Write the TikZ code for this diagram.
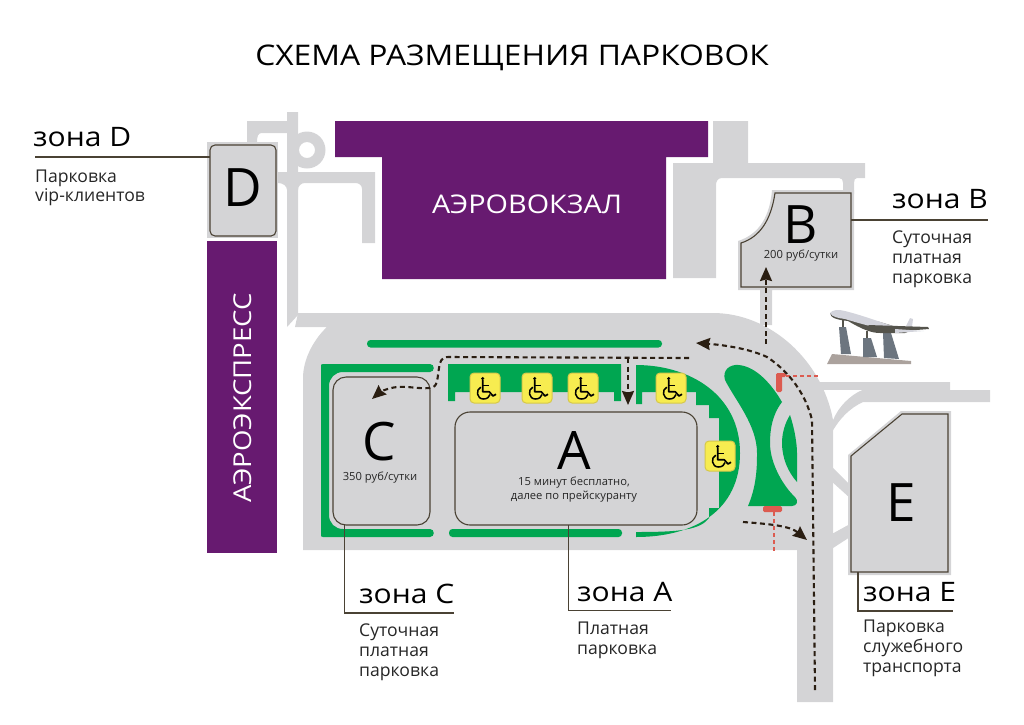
\documentclass[tikz,border=0pt]{standalone}
\usepackage{fontspec}
\setmainfont{Open Sans}
\newfontfamily\wide[FakeStretch=1.12]{Open Sans}
\usetikzlibrary{arrows.meta}
\definecolor{road}{HTML}{D4D4D6}
\definecolor{grn}{HTML}{00A651}
\definecolor{purp}{HTML}{671A70}
\definecolor{edge}{HTML}{4A4234}
\definecolor{dash}{HTML}{2A1E12}
\definecolor{redd}{HTML}{DC5B50}
\definecolor{yel}{HTML}{F7EC50}
\definecolor{yeledge}{HTML}{D6C84A}
\definecolor{stone}{HTML}{ABA29D}
\definecolor{pylon}{HTML}{6C757F}
\definecolor{planelight}{HTML}{D3D4DC}
\definecolor{planedark}{HTML}{55544C}
\tikzset{
  roadfill/.style={fill=road,draw=none},
  greenfill/.style={fill=grn,draw=none},
  purplefill/.style={fill=purp,draw=none},
  zonebox/.style={fill=road,draw=edge,line width=1.1pt},
  leader/.style={draw=edge,line width=1.1pt},
  route/.style={draw=dash,line width=2.1pt,dash pattern=on 5pt off 3.5pt},
  routearrow/.style={route,-{Stealth[length=14pt,width=12pt,inset=1.5pt,fill=dash]}},
  barrier/.style={draw=redd,line width=1.4pt,dash pattern=on 4pt off 3pt},
  redbar/.style={fill=redd,draw=none,rounded corners=1.5pt},
  bigletter/.style={font=\fontsize{53}{53}\selectfont,text=black,inner sep=0pt},
  price/.style={font=\fontsize{11.2}{14}\selectfont,text=black!85,inner sep=0pt,align=center},
  zonetitle/.style={font=\wide\fontsize{26.8}{26.8}\selectfont,text=black,inner sep=0pt,anchor=base west},
  body/.style={font=\fontsize{17.6}{20}\selectfont,text=black!85,inner sep=0pt,anchor=base west},
  sign/.pic={
    \path[fill=yel,draw=yeledge,line width=1pt,rounded corners=4pt] (-15,-15) rectangle (15,15);
    \path[fill=black] (-2.3,-9.5) circle[radius=1.7];
    \draw[black,line width=1.7pt,line join=round] (-2.3,-8) -- (-2.3,3.8) -- (4.3,3.8) -- (8,8) -- (11,6.2);
    \draw[black,line width=1.7pt] (-2.3,-2.5) -- (3.5,-2.5);
    \draw[black,line width=1.5pt] (-4.2,-0.8) .. controls (-9.5,1.5) and (-8.5,11) .. (-1.5,11) .. controls (2,11) and (4.5,9) .. (5,6.5);
  }
}
\begin{document}
\begin{tikzpicture}[x=1pt,y=-1pt]
\useasboundingbox (0,0) rectangle (1024,724);
% title
\node[font=\wide\fontsize{28.4}{28.4}\selectfont,text=black,inner sep=0pt,anchor=base] (title) at (512,65) {СХЕМА РАЗМЕЩЕНИЯ ПАРКОВОК};

% roads: upper left
\path[roadfill] (247,143) -- (247,121) -- (287,121) -- (287,112) -- (298,112) -- (298,315) -- (287,327) -- (287,190) .. controls (287,186) and (283,183) .. (278,183) -- (278,172) -- (287,172) -- (287,133) -- (262,133) .. controls (258,133) and (257,136) .. (257,143) -- cycle;
\path[roadfill,even odd rule] (307,150) circle[radius=18.5] (307,150) circle[radius=8];
\path[roadfill] (295,172) -- (375,172) -- (375,243) -- (362,243) -- (362,189) .. controls (362,185) and (359,183) .. (355,183) -- (305,183) .. controls (301,183) and (298,186) .. (298,190) -- (295,190) -- cycle;
% roads: upper right
\path[roadfill] (673,163) -- (713,163) -- (713,121) -- (748,121) -- (748,163) -- (865,163) -- (865,178) -- (857,178) .. controls (855,178) and (854,180) .. (854,183) -- (854,194) -- (843,194) -- (843,183) .. controls (843,180) and (842,178) .. (839,178) -- (722,178) .. controls (718,178) and (716,181) .. (716,185) -- (716,278) -- (673,278) -- cycle;
\path[roadfill] (772,190) -- (854,190) -- (854,290) -- (772,290) -- (772,325) -- (760,325) -- (760,290) -- (738,290) -- (738,241) .. controls (760,234) and (770,215) .. cycle;
% roads: east
\path[roadfill] (820,382) -- (950,382) -- (950,390) -- (990,390) -- (990,402) -- (863,402) .. controls (850,408) and (840,418) .. (832,432) -- (820,432) -- cycle;
\path[fill=white] (815,390) -- (862,390) .. controls (850,395) and (838,407) .. (833,420) -- (815,420) -- cycle;
\path[roadfill] (830,465) -- (850,485) -- (850,498) -- (830,480) -- cycle;
\path[roadfill] (830,535) -- (850,524) -- (850,537) -- (830,550) -- cycle;
% plaza
\path[roadfill] (298,313) -- (713,313) .. controls (770,313) and (822,360) .. (833,420) -- (833,702) -- (797,702) -- (797,550) -- (303,550) -- (303,378) .. controls (303,358) and (315,338) .. (327,327) -- (295,327) -- cycle;

% purple blocks
\path[purplefill] (335,121) -- (708,121) -- (708,157) -- (666,157) -- (666,279) -- (382,279) -- (382,157) -- (335,157) -- cycle;
\node[font=\wide\fontsize{25.7}{25.7}\selectfont,text=white,inner sep=0pt] (terminal) at (527,204) {АЭРОВОКЗАЛ};
\path[purplefill] (207,241) rectangle (277,553);
\node[font=\wide\fontsize{24.6}{24.6}\selectfont,text=white,inner sep=0pt,rotate=90] (express) at (243,398) {АЭРОЭКСПРЕСС};

% green areas
\path[greenfill,rounded corners=3.5pt] (367,340) rectangle (662,347.5);
\path[greenfill,even odd rule] (323,364) -- (430,364) .. controls (435,364) and (435,372) .. (430,372) -- (343,372) .. controls (335,372) and (329,378) .. (329,386) -- (329,515) .. controls (329,523) and (335,529) .. (343,529) -- (430,529) .. controls (435,529) and (435,537) .. (430,537) -- (323,537) .. controls (321,537) and (321,536) .. (321,535) -- (321,366) .. controls (321,365) and (321,364) .. (323,364) -- cycle;
\path[greenfill] (448,364) -- (621,364) -- (621,401) -- (614,401) -- (614,392) -- (455,392) -- (455,401) -- (448,401) -- cycle;
\path[greenfill,rounded corners=3.5pt] (449,529) rectangle (622,537);
\path[greenfill] (636,365) .. controls (690,365) and (740,395) .. (740,453) .. controls (740,510) and (695,537) .. (636,537) -- (636,532) .. controls (680,532) and (700,530) .. (709,518) -- (709,508) -- (719,508) -- (719,418) -- (709,418) -- (709,405) -- (696,405) -- (696,392) -- (642,392) -- (642,404) -- (636,404) -- cycle;
\path[greenfill] (725,380) .. controls (722,370) and (730,364) .. (739,365) .. controls (757,367) and (772,385) .. (782,402) .. controls (772,415) and (770,430) .. (770,443) .. controls (770,465) and (785,488) .. (795,497) .. controls (799,501) and (797,506) .. (792,506) -- (748,506) .. controls (757,485) and (757,465) .. (757,453) .. controls (757,425) and (735,400) .. (725,380) -- cycle;
\path[greenfill] (790,415) .. controls (795,430) and (797,445) .. (797,453) -- (797,482) .. controls (788,472) and (782,458) .. (782,443) .. controls (782,433) and (785,423) .. (790,415) -- cycle;

% parking zones
\path[roadfill] (207,142) rectangle (278,238);
\path[zonebox,rounded corners=5pt] (210,145) rectangle (276,236);
\node[bigletter] (D) at (243,188) {D};
\coordinate (Dleft) at (210,157);
\path[zonebox,rounded corners=13pt] (333,377) rectangle (430,525);
\node[bigletter] (C) at (379,442) {C};
\node[price] (Cprice) at (380,478) {350 руб/сутки};
\coordinate (Cbottom) at (344.5,525);
\path[zonebox,rounded corners=15pt] (455,412) rectangle (697,525);
\node[bigletter] (A) at (574,450) {A};
\node[price] (Aprice) at (574,490) {15 минут бесплатно,\\далее по прейскуранту};
\coordinate (Abottom) at (568.5,525);
\path[zonebox] (775,193) -- (851,193) -- (851,287) -- (741,287) -- (741,243) .. controls (760,237) and (771,220) .. (775,193) -- cycle;
\node[bigletter] (B) at (801,225) {B};
\node[price] (Bprice) at (801,256) {200 руб/сутки};
\coordinate (Bright) at (851,220);
\path[roadfill] (848,455) -- (901,411) -- (951,411) -- (951,575) -- (848,575) -- cycle;
\path[zonebox] (851,456) -- (902,414) -- (948,414) -- (948,572) -- (851,572) -- cycle;
\node[bigletter] (E) at (901,503) {E};
\coordinate (Ebottom) at (858,572);

% barriers
\path[redbar] (776,373) rectangle (782,392);
\path[redbar] (776,373) rectangle (786,377);
\coordinate (r1a) at (786,376); \coordinate (r1b) at (818,376);
\draw[barrier] (r1a) -- (r1b);
\path[redbar] (763,506) rectangle (782,512);
\coordinate (r2a) at (774,512); \coordinate (r2b) at (774,551);
\draw[barrier] (r2a) -- (r2b);

% accessible parking signs
\pic at (485,388) {sign};
\pic at (537,388) {sign};
\pic at (583,388) {sign};
\pic at (671,388) {sign};
\pic at (720,456) {sign};

% routes
\coordinate (p1) at (815,690);
\coordinate (p2) at (812,420);
\coordinate (p3) at (767,357);
\coordinate (p4) at (696,343);
\draw[routearrow] (p1) -- (p2) .. controls (806,395) and (790,372) .. (p3) .. controls (750,349) and (725,345) .. (p4);
\coordinate (q1) at (689,358);
\coordinate (q2) at (448,357);
\coordinate (q3) at (372,399);
\draw[routearrow] (q1) -- (q2) .. controls (441,357) and (440,362) .. (439,368) .. controls (437,380) and (438,387) .. (430,388) .. controls (418,389) and (408,386) .. (397,387) .. controls (388,388) and (380,392) .. (q3);
\coordinate (s1) at (628,358); \coordinate (s2) at (628,405);
\draw[routearrow] (s1) -- (s2);
\coordinate (t1) at (766,344); \coordinate (t2) at (766,267);
\draw[routearrow] (t1) -- (t2);
\coordinate (u1) at (743,522); \coordinate (u2) at (807,540);
\draw[routearrow] (u1) .. controls (770,524) and (790,526) .. (u2);

% plane monument
\path[fill=planedark] (842,320) rectangle (844,328);
\path[fill=planedark] (866,331) rectangle (868,339);
\path[fill=planedark] (886,330) rectangle (888,334);
\path[fill=stone] (827,364) -- (832,354) -- (911,361) -- (911,364) -- cycle;
\path[fill=pylon] (839,327) -- (846,327) -- (851,354) -- (841,354) -- cycle;
\path[fill=pylon] (863,338) -- (871,338) -- (877,357) -- (863,357) -- cycle;
\path[fill=pylon] (883,333) -- (891,333) -- (899,359) -- (884,358) -- cycle;
\path[fill=planelight] (906,326) -- (910,318) -- (913,319) -- (912,327) -- cycle;
\path[fill=planedark] (830,313) .. controls (830,318) and (838,320) .. (848,321) .. controls (860,328) and (870,333) .. (880,333) -- (905,333) -- (910,331) -- (880,322) -- cycle;
\path[fill=planelight] (830,313) .. controls (832,310) and (838,309) .. (845,311) .. controls (865,316) and (885,324) .. (908,331) .. controls (885,331) and (865,325) .. (845,319) .. controls (838,318) and (832,317) .. (830,313) -- cycle;
\path[fill=planedark] (868,325) -- (928,327) -- (929,329) -- (878,333) -- cycle;
\path[fill=planelight] (895,329) -- (924,331) -- (895,333) -- cycle;

% zone labels
\node[zonetitle] (zD) at (33,146) {зона D};
\coordinate (lD) at (35,157);
\draw[leader] (lD) -- (Dleft);
\node[body] (zD1) at (35,182) {Парковка};
\node[body] (zD2) at (35,201) {vip-клиентов};

\node[zonetitle] (zB) at (892,208) {зона B};
\coordinate (lB) at (988,220);
\draw[leader] (Bright) -- (lB);
\node[body] (zB1) at (892,243) {Суточная};
\node[body] (zB2) at (892,263) {платная};
\node[body] (zB3) at (892,283) {парковка};

\node[zonetitle] (zC) at (359,603) {зона C};
\coordinate (lC1) at (344.5,613); \coordinate (lC2) at (454,613);
\draw[leader] (Cbottom) -- (lC1) -- (lC2);
\node[body] (zC1) at (359,636) {Суточная};
\node[body] (zC2) at (359,656) {платная};
\node[body] (zC3) at (359,676) {парковка};

\node[zonetitle] (zA) at (577,601) {зона A};
\coordinate (lA1) at (568.5,610.5); \coordinate (lA2) at (671,610.5);
\draw[leader] (Abottom) -- (lA1) -- (lA2);
\node[body] (zA1) at (577,634) {Платная};
\node[body] (zA2) at (577,654) {парковка};

\node[zonetitle] (zE) at (863,601) {зона E};
\coordinate (lE1) at (858,611); \coordinate (lE2) at (953,611);
\draw[leader] (Ebottom) -- (lE1) -- (lE2);
\node[body] (zE1) at (863,632) {Парковка};
\node[body] (zE2) at (863,652) {служебного};
\node[body] (zE3) at (863,672) {транспорта};
\end{tikzpicture}
\end{document}
